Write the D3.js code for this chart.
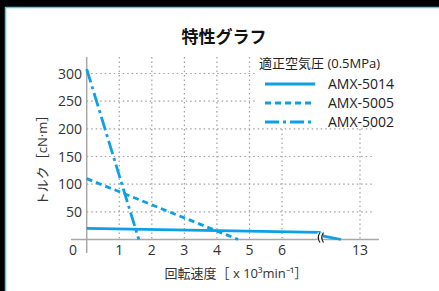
<!DOCTYPE html>
<html><head><meta charset="utf-8">
<script src="https://cdn.jsdelivr.net/npm/d3@7/dist/d3.min.js"></script>
<style>
html,body{margin:0;padding:0;background:#000;}
svg{display:block;}
text{font-family:"Open Sans","Noto Sans CJK JP",sans-serif;}
</style></head>
<body>
<script>
const title = "特性グラフ";
const legendTitle = "適正空気圧 (0.5MPa)";
const seriesNames = ["AMX-5014", "AMX-5005", "AMX-5002"];
const seriesDash = ["none", "6,4", "14,4,3,4"];
const speed5014 = [0, 7.15, 11.1, 12];
const torque5014 = [20, 13, 6, 0];
const speed5005 = [0, 4.65];
const torque5005 = [110, 0];
const speed5002 = [0, 1.6];
const torque5002 = [308, 0];
const xTicks = [1, 2, 3, 4, 5, 6, 13];
const yTicks = [50, 100, 150, 200, 250, 300];
const xLabel = "回転速度［ x 10³min⁻¹］";
const yLabel = "トルク［cN·m］";

const W = 439, H = 291;
const blue = "#0ea0e4";
const svg = d3.select("body").append("svg").attr("width", W).attr("height", H);
svg.append("rect").attr("width", W).attr("height", H).attr("fill", "#000");
svg.append("rect").attr("x", 5.5).attr("y", 7.5).attr("width", W).attr("height", H)
  .attr("fill", "#fff").attr("stroke", "#5cc4f0").attr("stroke-width", 1.5);

const x = d3.scaleLinear().domain([0, 7.15, 11, 13]).range([86.7, 319.5, 322, 360]);
const y = d3.scaleLinear().domain([0, 300]).range([239.5, 73.5]);

// grid
const grid = svg.append("g").attr("stroke", "#a0a0a0").attr("stroke-width", 1.2)
  .attr("stroke-dasharray", "1.5,3");
grid.selectAll("line.h").data(yTicks).join("line")
  .attr("x1", x(0)).attr("x2", 374).attr("y1", d => y(d)).attr("y2", d => y(d));
grid.selectAll("line.v").data(xTicks).join("line")
  .attr("x1", d => x(d)).attr("x2", d => x(d)).attr("y1", 57).attr("y2", y(0));

// legend background
svg.append("rect").attr("x", 257).attr("y", 50).attr("width", 182).attr("height", 78).attr("fill", "#fff");

// axes
svg.append("line").attr("x1", x(0)).attr("x2", x(0)).attr("y1", 57).attr("y2", 253)
  .attr("stroke", "#a8a8a8").attr("stroke-width", 1.5);
svg.append("line").attr("x1", 71).attr("x2", 379).attr("y1", y(0)).attr("y2", y(0))
  .attr("stroke", "#a8a8a8").attr("stroke-width", 1.5);

// tick labels
svg.append("g").selectAll("text").data(yTicks).join("text")
  .attr("x", 82).attr("y", d => y(d)).attr("dy", "0.36em").attr("text-anchor", "end")
  .attr("font-size", 14).attr("fill", "#333").text(d => d);
svg.append("g").selectAll("text").data(xTicks).join("text")
  .attr("x", d => x(d)).attr("y", 255).attr("text-anchor", "middle")
  .attr("font-size", 14).attr("fill", "#333").text(d => d);
svg.append("text").attr("x", 73).attr("y", 255).attr("text-anchor", "middle")
  .attr("font-size", 14).attr("fill", "#333").text("0");

// series
const line = d3.line().x(d => x(d[0])).y(d => y(d[1]));
const series = [
  d3.zip(speed5014, torque5014),
  d3.zip(speed5005, torque5005),
  d3.zip(speed5002, torque5002)
];
svg.append("g").selectAll("path").data(series).join("path")
  .attr("d", line).attr("fill", "none").attr("stroke", blue).attr("stroke-width", 2.8)
  .attr("stroke-dasharray", (d, i) => seriesDash[i]);

// break symbol
const bx = x(7.15) + 1, by = y(0) - 2;
svg.append("rect").attr("x", bx - 3).attr("y", by - 5).attr("width", 5).attr("height", 9).attr("fill", "#fff");
[-2, 1.5].forEach(o => {
  svg.append("path").attr("d", `M${bx + o + 1.5},${by - 5} Q${bx + o - 2},${by} ${bx + o + 1.5},${by + 5}`)
    .attr("fill", "none").attr("stroke", "#222").attr("stroke-width", 1.2);
});

// title
svg.append("text").attr("x", 224).attr("y", 43).attr("text-anchor", "middle")
  .attr("font-size", 17).attr("font-weight", "bold").attr("fill", "#111").text(title);

// legend
svg.append("text").attr("x", 259).attr("y", 68).attr("font-size", 13).attr("fill", "#222").text(legendTitle);
const lg = svg.append("g").selectAll("g").data(seriesNames).join("g")
  .attr("transform", (d, i) => `translate(0,${84 + i * 19})`);
lg.append("line").attr("x1", 265).attr("x2", 315).attr("stroke", blue).attr("stroke-width", 2.8)
  .attr("stroke-dasharray", (d, i) => seriesDash[i]);
lg.append("text").attr("x", 328).attr("dy", "0.36em").attr("font-size", 14).attr("fill", "#222").text(d => d);

// axis titles
svg.append("text").attr("x", 236).attr("y", 278).attr("text-anchor", "middle")
  .attr("font-size", 13).attr("fill", "#333").text(xLabel);
svg.append("text").attr("transform", "translate(47,157) rotate(-90)").attr("text-anchor", "middle")
  .attr("font-size", 13).attr("fill", "#333").text(yLabel);
</script>
</body></html>
